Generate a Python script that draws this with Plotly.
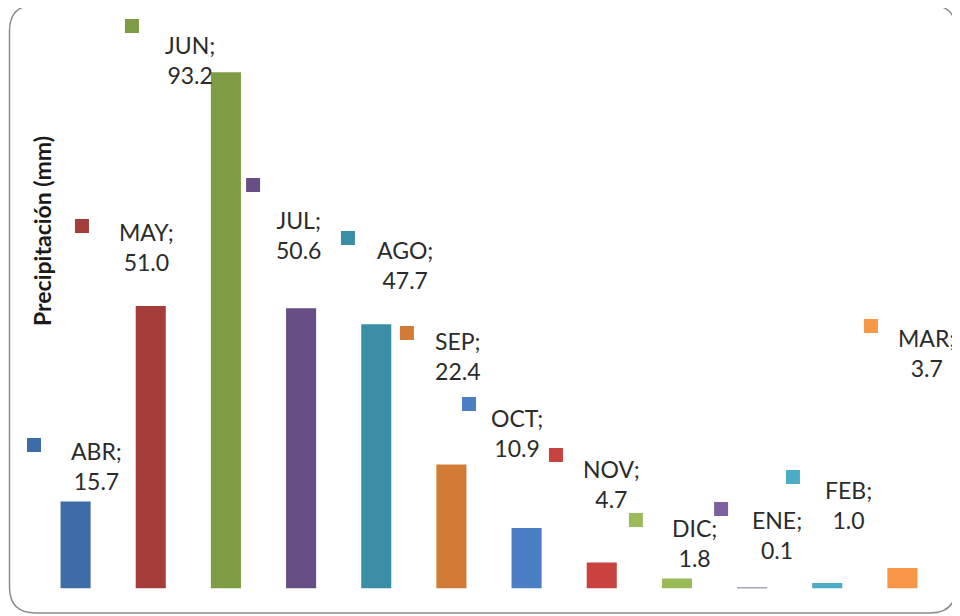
import plotly.graph_objects as go

# ---- data ----
months = ["ABR", "MAY", "JUN", "JUL", "AGO", "SEP", "OCT", "NOV", "DIC", "ENE", "FEB", "MAR"]
precip = [15.7, 51.0, 93.2, 50.6, 47.7, 22.4, 10.9, 4.7, 1.8, 0.1, 1.0, 3.7]
bar_colors = ["#3E6CA8", "#A53D3B", "#7F9C45", "#674F86", "#3A8FA6", "#D27B36",
              "#4A7FC4", "#C8423F", "#9BBB59", "#5A4A6E", "#4BACC6", "#F79646"]
key_colors = ["#3E6CA8", "#A53D3B", "#7F9C45", "#674F86", "#3A8FA6", "#D27B36",
              "#4A7FC4", "#C8423F", "#9BBB59", "#7D60A0", "#4BACC6", "#F79646"]
y_title = "Precipitación (mm)"

# ---- layout in reference pixels ----
W, H = 960, 616
OX, OY = 8, 8          # page body margin offset
PLOT_L, PLOT_R = 38, 940
BASE_Y, TOP_Y = 588.5, 34.5
YMAX = 100
text_dx = [21.4, -3.8, -36, -3, 28.7, 6.5, -9.6, 10.2, 18, 24.9, 21.7, 24.5]
text_py = [466, 247, 60, 235, 265, 356, 433, 484, 543, 535, 505, 353]
key_dx = [-41.6, -68.8, -94, -48, -28.3, -44.5, -57.6, -45.8, -41, -31, -34.3, -31.5]
key_py = [445, 226, 26, 185, 238, 333, 404, 455, 520, 509, 477, 326]
KEY = 14

def fx(px):
    return (px - OX) / W

def fy(py):
    return 1 - (py - OY) / H

n = len(months)
xs = list(range(n))
px_per_x = (PLOT_R - PLOT_L) / n
centers = [PLOT_L + px_per_x * (i + 0.5) for i in xs]

fig = go.Figure()
fig.add_trace(go.Bar(x=xs, y=precip, marker=dict(color=bar_colors, line=dict(width=0)),
                     width=0.4, hoverinfo="skip", showlegend=False))

annotations = []
shapes = []
for i, (m, v) in enumerate(zip(months, precip)):
    annotations.append(dict(
        x=i, xref="x", xshift=text_dx[i], y=fy(text_py[i]), yref="paper",
        text=f"{m};<br>{v:.1f}", showarrow=False, align="center",
        xanchor="center", yanchor="middle",
        font=dict(family="Lato", size=23, color="#2b2b2b")))
    kx = centers[i] + key_dx[i]
    ky = key_py[i]
    shapes.append(dict(type="rect", xref="paper", yref="paper",
                       x0=fx(kx - KEY / 2), x1=fx(kx + KEY / 2),
                       y0=fy(ky + KEY / 2), y1=fy(ky - KEY / 2),
                       fillcolor=key_colors[i], line=dict(width=0)))
annotations.append(dict(
    x=fx(42), y=fy(231), xref="paper", yref="paper", text=f"<b>{y_title}</b>",
    showarrow=False, textangle=-90, xanchor="center", yanchor="middle",
    font=dict(family="Lato", size=23, color="#1a1a1a")))

# rounded border
x0, x1, y0, y1, r = 9.5, 956, 5, 613, 26
def P(x, y):
    return f"{fx(x):.5f},{fy(y):.5f}"
path = (f"M {P(x0 + r, y0)} L {P(x1 - r, y0)} Q {P(x1, y0)} {P(x1, y0 + r)} "
        f"L {P(x1, y1 - r)} Q {P(x1, y1)} {P(x1 - r, y1)} "
        f"L {P(x0 + r, y1)} Q {P(x0, y1)} {P(x0, y1 - r)} "
        f"L {P(x0, y0 + r)} Q {P(x0, y0)} {P(x0 + r, y0)} Z")
shapes.append(dict(type="path", xref="paper", yref="paper", path=path,
                   line=dict(color="#8c8c8c", width=1.5)))

fig.update_layout(
    width=W, height=H, margin=dict(l=0, r=0, t=0, b=0),
    paper_bgcolor="white", plot_bgcolor="white",
    xaxis=dict(domain=[fx(PLOT_L), fx(PLOT_R)], range=[-0.5, n - 0.5], visible=False),
    yaxis=dict(domain=[fy(BASE_Y), fy(TOP_Y)], range=[0, YMAX], visible=False),
    annotations=annotations,
    shapes=shapes,
)
fig.write_html("out.html")
